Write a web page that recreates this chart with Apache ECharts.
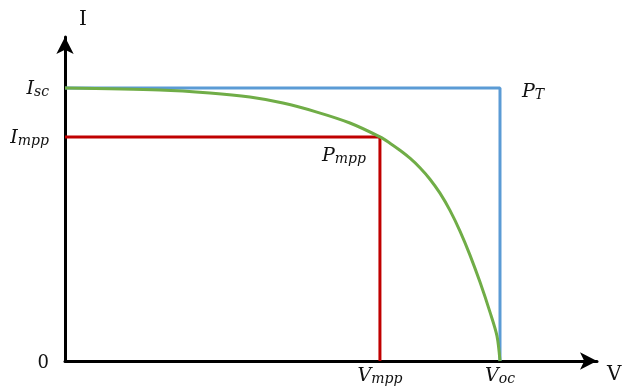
<!DOCTYPE html>
<html>
<head>
<meta charset="utf-8">
<script src="https://cdn.jsdelivr.net/npm/echarts@6/dist/echarts.min.js"></script>
<style>html,body{margin:0;padding:0;background:#fff}#c{width:630px;height:387px}</style>
</head>
<body>
<div id="c"></div>
<script>
// Normalised values: V relative to Voc, I relative to Isc
var Voc = 1.0;
var Vmpp = 0.724;
var Isc = 1.0;
var Impp = 0.821;
var xMax = 1.223;
var yMax = 1.187;
var curveV = [0, 0.218, 0.333, 0.425, 0.501, 0.579, 0.655, 0.724, 0.747, 0.770, 0.793, 0.816, 0.839, 0.862, 0.885, 0.908, 0.931, 0.954, 0.977, 0.993, 1.0];
var curveI = [1.0, 0.993, 0.982, 0.967, 0.945, 0.912, 0.872, 0.821, 0.798, 0.772, 0.743, 0.708, 0.666, 0.615, 0.552, 0.476, 0.388, 0.289, 0.179, 0.092, 0];
var xTickValues = [Vmpp, Voc];
var xTickLabels = ['{m|V}{s|mpp}', '{m|V}{s|oc}'];
var yTickValues = [0, Impp, Isc];
var yTickLabels = ['{z|0}', '{m|I}{s|mpp}', '{m|I}{s|sc}'];
var pointLabels = [
  {v: Voc, i: Isc, text: '{m|P}{s|T}'},
  {v: Vmpp, i: Impp, text: '{m|P}{s|mpp}'}
];

var serif = '"DejaVu Serif", "Liberation Serif", serif';
var rich = {
  m: {fontFamily: serif, fontStyle: 'italic', fontSize: 19, color: '#111', lineHeight: 22, verticalAlign: 'bottom'},
  s: {fontFamily: serif, fontStyle: 'italic', fontSize: 14, color: '#111', lineHeight: 16, verticalAlign: 'bottom'},
  z: {fontFamily: serif, fontSize: 18, color: '#111', lineHeight: 22, verticalAlign: 'bottom'}
};
function lookup(vals, labels) {
  return function (v) {
    for (var i = 0; i < vals.length; i++) if (Math.abs(vals[i] - v) < 1e-6) return labels[i];
    return '';
  };
}
var curve = curveV.map(function (v, i) { return [v, curveI[i]]; });

var chart = echarts.init(document.getElementById('c'));
chart.setOption({
  animation: false,
  grid: {left: 65, right: 33, top: 37, bottom: 26},
  xAxis: {
    type: 'value', min: 0, max: xMax,
    name: 'V', nameLocation: 'end', nameGap: 10,
    nameTextStyle: {fontFamily: serif, fontSize: 20, color: '#111', verticalAlign: 'top', padding: [4, 0, 0, 0]},
    axisLine: {show: true, symbol: ['none', 'arrow'], symbolSize: [13, 17], lineStyle: {color: '#000', width: 3}},
    axisTick: {show: false},
    splitLine: {show: false},
    axisLabel: {customValues: xTickValues, formatter: lookup(xTickValues, xTickLabels), rich: rich, margin: 3}
  },
  yAxis: {
    type: 'value', min: 0, max: yMax,
    name: 'I', nameLocation: 'end', nameGap: 7,
    nameTextStyle: {fontFamily: serif, fontSize: 20, color: '#111', align: 'left', padding: [0, 0, 0, 14]},
    axisLine: {show: true, symbol: ['none', 'arrow'], symbolSize: [13, 17], lineStyle: {color: '#000', width: 3}},
    axisTick: {show: false},
    splitLine: {show: false},
    axisLabel: {customValues: yTickValues, formatter: lookup(yTickValues, yTickLabels), rich: rich, margin: 16}
  },
  series: [
    {
      type: 'line', silent: true, symbol: 'none', z: 3,
      lineStyle: {color: '#5B9BD5', width: 3},
      data: [[0, Isc], [Voc, Isc], [Voc, 0]]
    },
    {
      type: 'line', silent: true, symbol: 'none', z: 4,
      lineStyle: {color: '#C00000', width: 3},
      data: [[0, Impp], [Vmpp, Impp], [Vmpp, 0]]
    },
    {
      type: 'line', silent: true, symbol: 'none', z: 5, smooth: 0.3,
      lineStyle: {color: '#70AD47', width: 3},
      data: curve
    },
    {
      type: 'scatter', silent: true, symbolSize: 2, z: 6,
      itemStyle: {color: 'rgba(0,0,0,0)', opacity: 1},
      label: {opacity: 1},
      data: [
        {value: [pointLabels[0].v, pointLabels[0].i],
         label: {show: true, position: 'right', distance: 21, offset: [0, 3], formatter: pointLabels[0].text, rich: rich}},
        {value: [pointLabels[1].v, pointLabels[1].i],
         label: {show: true, position: 'bottom', distance: 6, offset: [-36, 0], formatter: pointLabels[1].text, rich: rich}}
      ]
    }
  ]
});
</script>
</body>
</html>
